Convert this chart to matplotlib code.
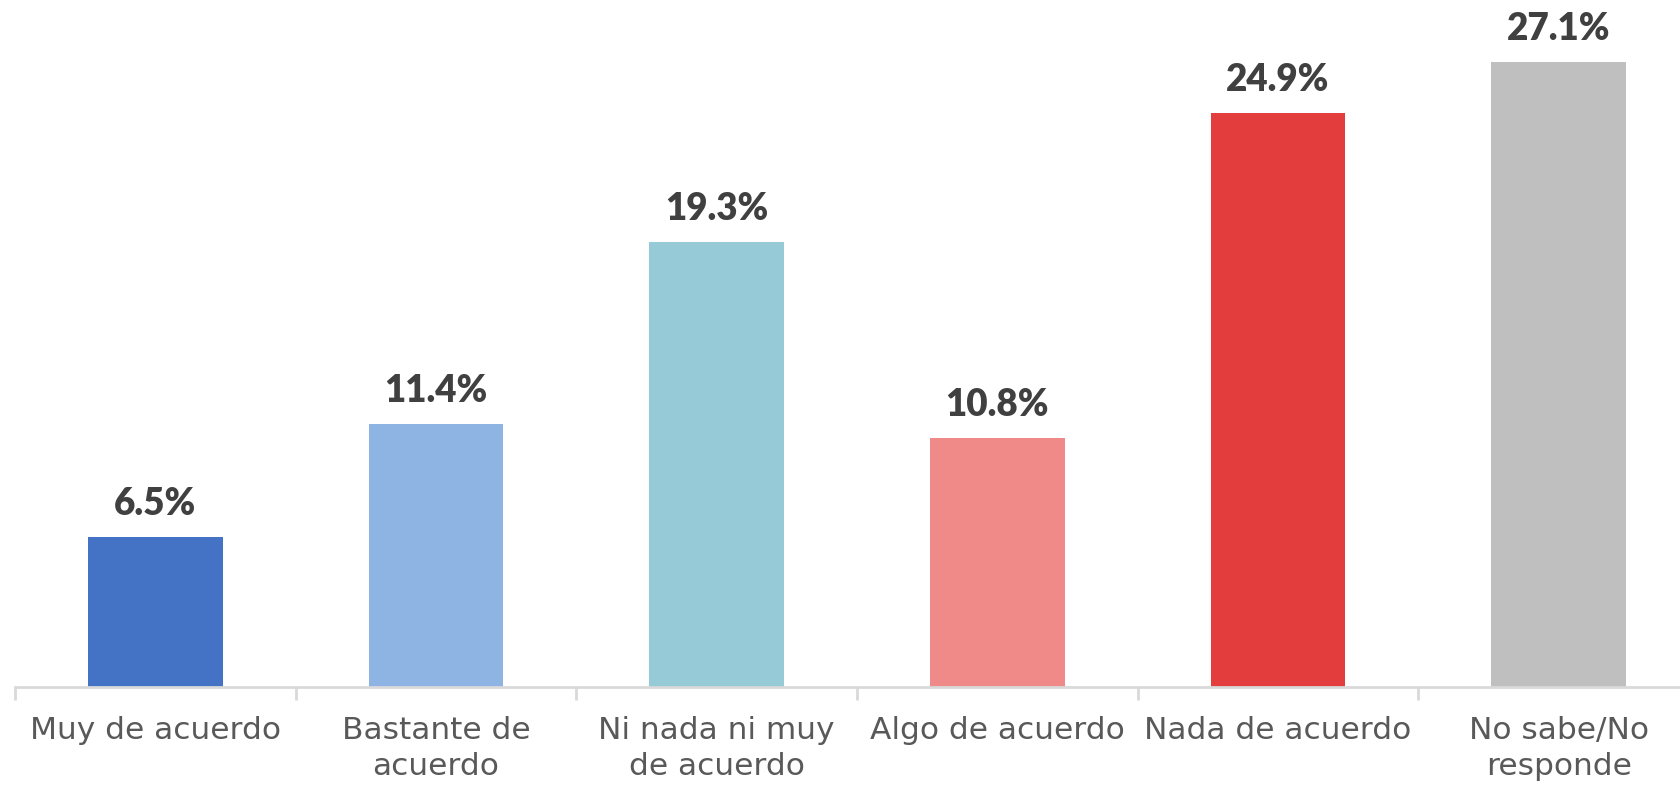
import matplotlib
matplotlib.use("Agg")
import matplotlib.pyplot as plt
from matplotlib.ticker import FixedLocator

categories = ["Muy de acuerdo", "Bastante de\nacuerdo", "Ni nada ni muy\nde acuerdo",
              "Algo de acuerdo", "Nada de acuerdo", "No sabe/No\nresponde"]
values = [6.5, 11.4, 19.3, 10.8, 24.9, 27.1]
labels = ["6.5%", "11.4%", "19.3%", "10.8%", "24.9%", "27.1%"]
colors = ["#4472C4", "#8EB4E3", "#97CAD7", "#EF8A89", "#E33D3D", "#BFBFBF"]

W, H = 1681, 785
fig = plt.figure(figsize=(W / 100, H / 100), dpi=100)
ax = fig.add_axes([15 / W, 98 / H, 1666 / W, 687 / H])

x = list(range(len(values)))
bars = ax.bar(x, values, width=0.48, color=colors, zorder=2)
ax.set_xlim(-0.5, 5.5 - 18 / 281)
ax.set_ylim(0, 29.8)

for xi, v, lab in zip(x, values, labels):
    ax.annotate(lab, (xi, v), xytext=(0, 11.5), textcoords="offset points",
                ha="center", va="bottom", fontsize=26.5, fontweight="heavy",
                color="#404040", family="Lato")

for s in ["top", "right", "left"]:
    ax.spines[s].set_visible(False)
ax.spines["bottom"].set_color("#D9D9D9")
ax.spines["bottom"].set_linewidth(2)
ax.set_yticks([])

ax.xaxis.set_major_locator(FixedLocator([i - 0.5 for i in range(7)]))
ax.xaxis.set_major_formatter(plt.NullFormatter())
ax.xaxis.set_minor_locator(FixedLocator(x))
ax.set_xticklabels(categories, minor=True)
ax.tick_params(axis="x", which="major", length=9, width=2, color="#D9D9D9")
ax.tick_params(axis="x", which="minor", length=0, pad=21, labelsize=22.5,
               labelcolor="#595959")
for t in ax.get_xticklabels(minor=True):
    t.set_family("DejaVu Sans")
    t.set_linespacing(1.3)

fig.savefig("out.png", dpi=100)
